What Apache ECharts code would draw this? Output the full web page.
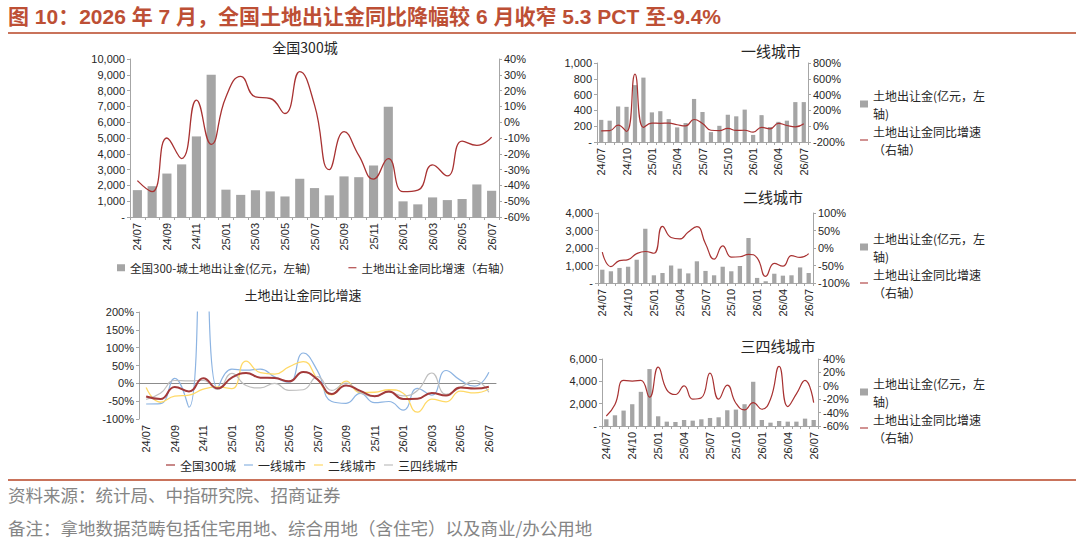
<!DOCTYPE html>
<html>
<head>
<meta charset="utf-8">
<title>土地出让金</title>
<script src="https://cdn.jsdelivr.net/npm/echarts@6/dist/echarts.min.js"></script>
<style>
  html, body { margin: 0; padding: 0; background: #fff; }
  #main { width: 1080px; height: 542px; }
</style>
</head>
<body>
<div id="main"></div>
<script type="text/javascript">
// months, 24/07 - 26/07
var months = ['24/07','24/08','24/09','24/10','24/11','24/12','25/01','25/02','25/03','25/04','25/05','25/06','25/07',
              '25/08','25/09','25/10','25/11','25/12','26/01','26/02','26/03','26/04','26/05','26/06','26/07'];

// 全国300城 (亿元, %)
var nationalAmt = [1700,1950,2750,3330,5100,9000,1730,1400,1700,1620,1300,2420,1830,1370,2570,2520,3260,6970,990,800,1240,1070,1140,2060,1660];
var nationalYoy = [-37,-44,-10,-23,14,-14,16,29,16,15,5.5,32,11,-30,-6,-21,-36,-23,-44,-43,-27,-34,-12,-14.7,-9.4];

// 一线城市
var tier1Amt = [280,270,450,445,720,815,375,390,290,185,240,545,380,125,205,345,325,410,90,340,190,255,270,505,505];
var tier1Yoy = [-58,-57,14,-67,660,-15,40,37,40,18,3,85,35,-51,-56,-28,-54,-51,-75,-14,-33,36,9,-8,31];

// 二线城市
var tier2Amt = [760,670,860,930,1330,3100,440,570,1000,820,550,1240,690,440,930,670,970,2570,290,100,530,420,440,890,570];
var tier2Yoy = [-12,-53,-36,-33,-16,-10,-15,62,30,26,46,61,12,-32,6,-26,-25,-18,-28,-81,-44,-52,-22,-27,-16];

// 三四线城市
var tier3Amt = [600,960,1380,1950,3060,5100,870,390,360,540,480,600,720,780,1410,1470,1950,3960,540,300,450,390,390,660,540];
var tier3Yoy = [-45,-28,8,7,8,-17,28,-6,-13,0,-20,-18,19,-20,1,-26,-36,-25,-35,-20,29,-31,-12,8,-25];

var FONT = "'Liberation Sans', 'Noto Sans CJK SC', sans-serif";
var CJK = "'Noto Sans CJK SC', sans-serif";
var textColor = '#262626';
var axisGray = '#a6a6a6';
var barGray = '#a5a5a5';
var red = '#a83232';
var amtName = '土地出让金(亿元，左轴)';
var yoyName = '土地出让金同比增速（右轴）';
// thin bar used as legend mark for line series
var lineIcon = 'path://M0,0L12,0L12,1.6L0,1.6Z';

var myChart = echarts.init(document.getElementById('main'), null, { renderer: 'svg' });

function numFmt(v) { return v === 0 ? '-' : v.toLocaleString('en-US'); }
function pctFmt(v) { return v + '%'; }

function xCat(gridIndex, labelInterval) {
    return {
        type: 'category', gridIndex: gridIndex, data: months,
        axisLine: { lineStyle: { color: axisGray } },
        axisTick: { show: true, interval: 0, length: 3, lineStyle: { color: axisGray } },
        axisLabel: { rotate: 90, interval: labelInterval, color: textColor, fontSize: 11, fontFamily: FONT, margin: 6 }
    };
}
function yVal(gridIndex, min, max, interval, fmt, position) {
    return {
        type: 'value', gridIndex: gridIndex, min: min, max: max, interval: interval, position: position,
        splitLine: { show: false },
        axisLine: { show: true, lineStyle: { color: axisGray } },
        axisTick: { show: true, length: 3, lineStyle: { color: axisGray } },
        axisLabel: { color: textColor, fontSize: 11, fontFamily: FONT, formatter: fmt, margin: 5 }
    };
}
function gtext(text, x, y, size, align, color) {
    return {
        type: 'text', silent: true,
        style: { text: text, x: x, y: y, fill: color || textColor, fontSize: size, fontFamily: CJK,
                 align: align, textAlign: align, verticalAlign: 'middle', textVerticalAlign: 'middle' }
    };
}
function rightLegend(top) {
    return {
        orient: 'vertical', left: 860, top: top, itemWidth: 8, itemHeight: 7, itemGap: 0, padding: 0,
        data: [{ name: amtName, icon: 'rect' }, { name: yoyName, icon: lineIcon }],
        formatter: function (n) { return n === amtName ? '土地出让金(亿元，左\n轴)' : '土地出让金同比增速\n（右轴）'; },
        textStyle: { fontSize: 12, lineHeight: 18, color: textColor, fontFamily: CJK }
    };
}

var xAxes = [xCat(0, 1), xCat(1, 1), xCat(1, 1), xCat(2, 2), xCat(3, 2), xCat(4, 2)];
// bottom-left: labels at bottom, separate line on zero
xAxes[1].axisLine = { show: false, onZero: false };
xAxes[1].axisTick = { show: false };
xAxes[2].axisLabel = { show: false };
xAxes[2].axisTick = { show: false };
xAxes[2].axisLine = { show: true, onZero: true, lineStyle: { color: '#8c8c8c' } };

var option = {
    backgroundColor: '#fff',
    animation: false,
    title: {
        text: '图 10：2026 年 7 月，全国土地出让金同比降幅较 6 月收窄 5.3 PCT 至-9.4%',
        left: 8, top: 6, padding: 0,
        textStyle: { color: '#bd4f35', fontSize: 21, fontWeight: 'bold', fontFamily: FONT }
    },
    grid: [
        { left: 130, top: 59, width: 369, height: 158, outerBoundsMode: 'none' },
        { left: 139, top: 312, width: 357, height: 107, outerBoundsMode: 'none' },
        { left: 597, top: 63, width: 211, height: 79, outerBoundsMode: 'none' },
        { left: 598, top: 213, width: 215, height: 70, outerBoundsMode: 'none' },
        { left: 602, top: 359, width: 216, height: 67, outerBoundsMode: 'none' }
    ],
    xAxis: xAxes,
    yAxis: [
        yVal(0, 0, 10000, 1000, numFmt, 'left'),
        yVal(0, -60, 40, 10, pctFmt, 'right'),
        yVal(1, -100, 200, 50, pctFmt, 'left'),
        yVal(2, 0, 1000, 200, numFmt, 'left'),
        yVal(2, -200, 800, 200, pctFmt, 'right'),
        yVal(3, 0, 4000, 1000, numFmt, 'left'),
        yVal(3, -100, 100, 50, pctFmt, 'right'),
        yVal(4, 0, 6000, 2000, numFmt, 'left'),
        yVal(4, -60, 40, 20, pctFmt, 'right')
    ],
    legend: [
        {
            left: 117, top: 262, itemWidth: 8, itemGap: 38, itemHeight: 7, padding: 0,
            data: [{ name: '全国300-城土地出让金(亿元，左轴)', icon: 'rect' }, { name: yoyName, icon: lineIcon }],
            textStyle: { fontSize: 11.5, color: textColor, fontFamily: CJK }
        },
        {
            left: 166, top: 459, itemWidth: 9, itemGap: 8, itemHeight: 7, padding: 0, icon: lineIcon,
            data: ['全国300城', '一线城市', '二线城市', '三四线城市'],
            textStyle: { fontSize: 12, color: textColor, fontFamily: CJK }
        },
        rightLegend(86),
        rightLegend(229),
        rightLegend(374)
    ],
    graphic: [
        { type: 'line', silent: true, shape: { x1: 8, y1: 33, x2: 1076, y2: 33 }, style: { stroke: '#c9735b', lineWidth: 2 } },
        { type: 'line', silent: true, shape: { x1: 8, y1: 480, x2: 1076, y2: 480 }, style: { stroke: '#c9735b', lineWidth: 2 } },
        gtext('全国300城', 305, 47, 14, 'center'),
        gtext('土地出让金同比增速', 303, 294, 13, 'center'),
        gtext('一线城市', 771, 50, 15, 'center'),
        gtext('二线城市', 773, 196, 15, 'center'),
        gtext('三四线城市', 778, 345, 15, 'center'),
        gtext('资料来源：统计局、中指研究院、招商证券', 8, 494, 17.5, 'left', '#858585'),
        gtext('备注：拿地数据范畴包括住宅用地、综合用地（含住宅）以及商业/办公用地', 8, 527, 17.5, 'left', '#858585')
    ],
    series: [
        // 全国300城
        { name: '全国300-城土地出让金(亿元，左轴)', type: 'bar', xAxisIndex: 0, yAxisIndex: 0, data: nationalAmt,
          barCategoryGap: '38%', itemStyle: { color: barGray } },
        { name: yoyName, type: 'line', xAxisIndex: 0, yAxisIndex: 1, data: nationalYoy, smooth: 0.5,
          symbol: 'none', lineStyle: { color: red, width: 1.3 }, itemStyle: { color: red } },

        // 同比增速对比
        { name: '全国300城', type: 'line', xAxisIndex: 1, yAxisIndex: 2, data: nationalYoy, smooth: 0.5, symbol: 'none',
          lineStyle: { color: '#a33a3a', width: 2 }, itemStyle: { color: '#a33a3a' }, z: 5 },
        { name: '一线城市', type: 'line', xAxisIndex: 1, yAxisIndex: 2, data: tier1Yoy, smooth: 0.5, symbol: 'none',
          lineStyle: { color: '#8db4e2', width: 1.2 }, itemStyle: { color: '#8db4e2' } },
        { name: '二线城市', type: 'line', xAxisIndex: 1, yAxisIndex: 2, data: tier2Yoy, smooth: 0.5, symbol: 'none',
          lineStyle: { color: '#ffd966', width: 1.3 }, itemStyle: { color: '#ffd966' } },
        { name: '三四线城市', type: 'line', xAxisIndex: 1, yAxisIndex: 2, data: tier3Yoy, smooth: 0.5, symbol: 'none',
          lineStyle: { color: '#bfbfbf', width: 1.2 }, itemStyle: { color: '#bfbfbf' } },

        // 一线城市
        { name: amtName, type: 'bar', xAxisIndex: 3, yAxisIndex: 3, data: tier1Amt,
          barCategoryGap: '50%', itemStyle: { color: barGray } },
        { name: yoyName, type: 'line', xAxisIndex: 3, yAxisIndex: 4, data: tier1Yoy, smooth: 0.5,
          symbol: 'none', lineStyle: { color: red, width: 1.2 }, itemStyle: { color: red } },

        // 二线城市
        { name: amtName, type: 'bar', xAxisIndex: 4, yAxisIndex: 5, data: tier2Amt,
          barCategoryGap: '50%', itemStyle: { color: barGray } },
        { name: yoyName, type: 'line', xAxisIndex: 4, yAxisIndex: 6, data: tier2Yoy, smooth: 0.5,
          symbol: 'none', lineStyle: { color: red, width: 1.2 }, itemStyle: { color: red } },

        // 三四线城市
        { name: amtName, type: 'bar', xAxisIndex: 5, yAxisIndex: 7, data: tier3Amt,
          barCategoryGap: '50%', itemStyle: { color: barGray } },
        { name: yoyName, type: 'line', xAxisIndex: 5, yAxisIndex: 8, data: tier3Yoy, smooth: 0.5,
          symbol: 'none', lineStyle: { color: red, width: 1.2 }, itemStyle: { color: red } }
    ]
};

myChart.setOption(option);
</script>
</body>
</html>
